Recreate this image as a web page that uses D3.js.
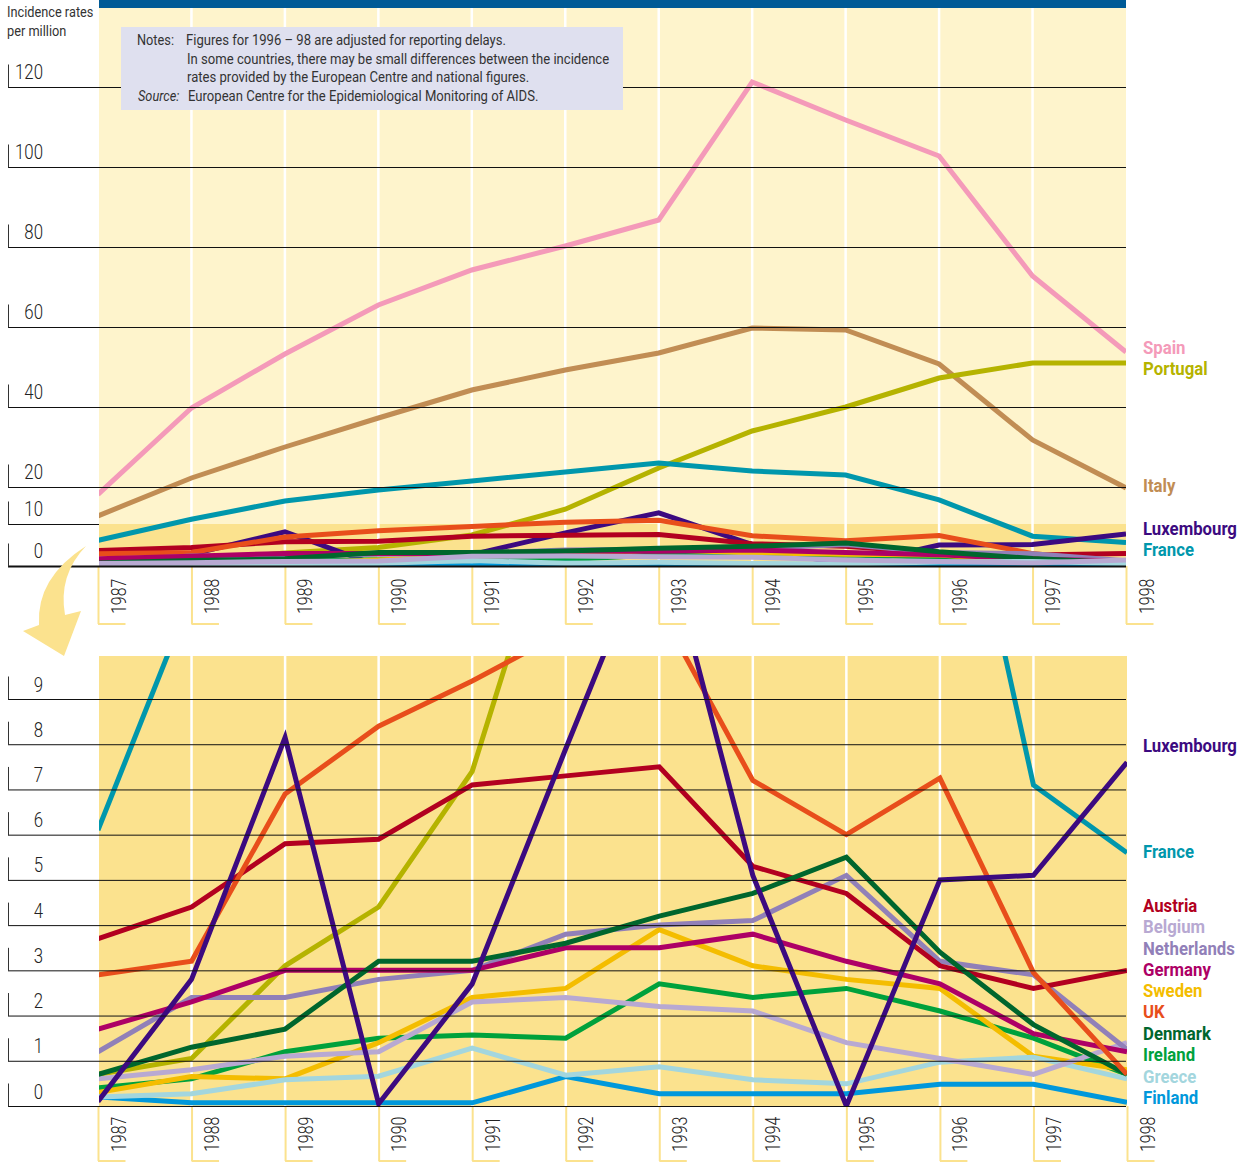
<!DOCTYPE html>
<html lang="en">
<head>
<meta charset="UTF-8">
<title>AIDS incidence rates</title>
<script src="https://d3js.org/d3.v7.min.js"></script>
<style>
body { margin: 0; background: #fff; }
svg { display: block; }
text { font-family: "Roboto", "Liberation Sans", sans-serif; fill: #2b2b2b; }
.tick text { font-family: "Roboto", "Liberation Sans", sans-serif; font-size: 21px; font-weight: 300; fill: #222; }
.note { font-size: 15px; font-weight: 400; fill: #333; }
.country { font-size: 18.5px; font-weight: bold; }
</style>
</head>
<body>
<svg width="1250" height="1162"></svg>
<script>
var years = [1987, 1988, 1989, 1990, 1991, 1992, 1993, 1994, 1995, 1996, 1997, 1998];

var spain      = [18, 39.75, 53.25, 65.5, 74.25, 80.25, 86.75, 121.25, 111.75, 102.75, 72.75, 53.75];
var italy      = [12.2, 22.25, 30, 37.25, 44.25, 49.25, 53.5, 59.75, 59.25, 50.75, 31.75, 19.75];
var portugal   = [0.7, 1.05, 3.1, 4.4, 7.4, 14, 24.75, 34, 40, 47.25, 51, 51];
var france     = [6.1, 11.3, 16.2, 19.2, 21.5, 23.75, 26, 24, 23, 16.5, 7.1, 5.6];
var luxembourg = [0.1, 2.8, 8.15, 0.05, 2.7, 7.9, 13, 5.1, 0, 5, 5.1, 7.6];
var austria    = [3.7, 4.4, 5.8, 5.9, 7.1, 7.3, 7.5, 5.3, 4.7, 3.1, 2.6, 3];
var belgium    = [0.6, 0.8, 1.1, 1.2, 2.3, 2.4, 2.2, 2.1, 1.4, 1.05, 0.7, 1.4];
var netherlands = [1.2, 2.4, 2.4, 2.8, 3, 3.8, 4, 4.1, 5.1, 3.2, 2.9, 1.25];
var germany    = [1.7, 2.3, 3, 3, 3, 3.5, 3.5, 3.8, 3.2, 2.7, 1.6, 1.2];
var sweden     = [0.3, 0.65, 0.6, 1.4, 2.4, 2.6, 3.9, 3.1, 2.8, 2.6, 1.1, 0.8];
var uk         = [2.9, 3.2, 6.9, 8.4, 9.4, 10.5, 11, 7.2, 6, 7.25, 2.95, 0.7];
var denmark    = [0.7, 1.3, 1.7, 3.2, 3.2, 3.6, 4.2, 4.7, 5.5, 3.4, 1.8, 0.7];
var ireland    = [0.4, 0.6, 1.2, 1.5, 1.57, 1.5, 2.7, 2.4, 2.6, 2.1, 1.5, 0.7];
var greece     = [0.2, 0.27, 0.58, 0.66, 1.28, 0.68, 0.87, 0.58, 0.49, 0.97, 1.08, 0.6];
var finland    = [0.2, 0.07, 0.07, 0.07, 0.07, 0.65, 0.27, 0.27, 0.27, 0.48, 0.48, 0.08];

var topTicks = [0, 10, 20, 40, 60, 80, 100, 120];
var lowTicks = [0, 1, 2, 3, 4, 5, 6, 7, 8, 9];

var series = {
    Spain: {values: spain, color: "#f49ab9"},
    Italy: {values: italy, color: "#c18d54"},
    Portugal: {values: portugal, color: "#b5b300"},
    France: {values: france, color: "#0097ac"},
    Luxembourg: {values: luxembourg, color: "#3c0a80"},
    Austria: {values: austria, color: "#b20020"},
    Belgium: {values: belgium, color: "#b8a9d2"},
    Netherlands: {values: netherlands, color: "#9180b8"},
    Germany: {values: germany, color: "#ad0066"},
    Sweden: {values: sweden, color: "#f4bd00"},
    UK: {values: uk, color: "#e84e1b"},
    Denmark: {values: denmark, color: "#00662d"},
    Ireland: {values: ireland, color: "#00a13c"},
    Greece: {values: greece, color: "#a3d6de"},
    Finland: {values: finland, color: "#0098db"}
};

// draw order differs a bit between the two panels
var topOrder = ["Spain", "Italy", "Portugal", "France", "Luxembourg", "Austria", "UK", "Ireland", "Sweden",
    "Finland", "Netherlands", "Germany", "Denmark", "Greece", "Belgium"];
var lowOrder = ["Spain", "Italy", "Portugal", "France", "Ireland", "Sweden", "Finland", "Greece", "Belgium",
    "Netherlands", "Austria", "Germany", "Denmark", "UK", "Luxembourg"];

var svg = d3.select("svg");
var pale = "#fef4cc", band = "#fbe28e";

// no condensed face installed, so squeeze the glyphs to the original widths
function narrow(sel, factor) {
    sel.each(function() {
        var n = this.getComputedTextLength();
        d3.select(this).attr("textLength", n * factor).attr("lengthAdjust", "spacingAndGlyphs");
    });
}

// the 0-10 part of the top panel is a little stretched in the original
var yTop = d3.scaleLinear().domain([0, 10, 20, 120]).range([566, 524, 487, 87]);
var yLow = d3.scaleLinear().domain([0, 9]).range([1106, 699]);
var xTop = d3.scaleLinear().domain([1987, 1998]).range([98, 1126]);
var xLow = d3.scaleLinear().domain([1987, 1998]).range([98, 1127]);

svg.append("rect").attr("x", 99).attr("y", 0).attr("width", 1027).attr("height", 8).attr("fill", "#005a96");
svg.append("rect").attr("x", 99).attr("y", 8).attr("width", 1027).attr("height", 516).attr("fill", pale);
svg.append("rect").attr("x", 99).attr("y", yTop(10)).attr("width", 1027).attr("height", yTop(0) - yTop(10)).attr("fill", band);
svg.append("rect").attr("x", 99).attr("y", 656).attr("width", 1028).attr("height", 450).attr("fill", band);

var defs = svg.append("defs");
defs.append("clipPath").attr("id", "clipTop").append("rect")
    .attr("x", 99).attr("y", 8).attr("width", 1027).attr("height", 558);
defs.append("clipPath").attr("id", "clipLow").append("rect")
    .attr("x", 99).attr("y", 656).attr("width", 1028).attr("height", 450);

function panel(x, y, order, clip, top, bottom, tickVals) {
    var isTop = bottom == 566;

    // white year stripes
    svg.append("g").selectAll("line").data(years.slice(1, -1)).join("line")
        .attr("x1", x).attr("x2", x)
        .attr("y1", top).attr("y2", bottom)
        .attr("stroke", "#fff").attr("stroke-width", 2.5);

    var line = d3.line()
        .x(function(d, i) { return x(years[i]); })
        .y(function(d) { return y(d); });

    svg.append("g").attr("clip-path", "url(#" + clip + ")")
        .selectAll("path").data(order).join("path")
        .attr("d", function(d) { return line(series[d].values); })
        .attr("fill", "none")
        .attr("stroke", function(d) { return series[d].color; })
        .attr("stroke-width", 5)
        .attr("stroke-linejoin", "miter");

    // year axis
    var xAxis = d3.axisBottom(x).tickValues(years).tickFormat(d3.format("d")).tickSize(isTop ? 58 : 55);
    var gx = svg.append("g").attr("transform", "translate(0," + bottom + ")").call(xAxis);
    gx.select(".domain").remove();
    gx.selectAll(".tick line").attr("stroke", band).attr("stroke-width", 2);
    gx.selectAll(".tick").append("line")
        .attr("x1", -0.5).attr("x2", 27)
        .attr("y1", isTop ? 58 : 55).attr("y2", isTop ? 58 : 55)
        .attr("stroke", band).attr("stroke-width", 2);
    gx.selectAll(".tick text")
        .attr("text-anchor", "start")
        .attr("dy", 0)
        .attr("y", 0)
        .attr("x", 0)
        .attr("transform", "translate(27," + (isTop ? 48 : 46) + ") rotate(-90)")
        .call(narrow, 0.76);

    // value axis, the gridlines run across the coloured lines
    var yAxis = d3.axisLeft(y).tickValues(tickVals).tickFormat(d3.format("d")).tickSize(-1118);
    var gy = svg.append("g").attr("transform", "translate(8,0)").call(yAxis);
    gy.select(".domain").remove();
    gy.selectAll(".tick line")
        .attr("stroke", "#111")
        .attr("x2", function(d) { return isTop && d == 10 ? 91 : 1118; })
        .attr("stroke-width", function(d) { return d == 0 && isTop ? 2 : 1; });
    gy.selectAll(".tick").append("line")
        .attr("x1", 0.5).attr("x2", 0.5).attr("y1", -23).attr("y2", 0)
        .attr("stroke", "#333").attr("stroke-width", 1);
    gy.selectAll(".tick text")
        .attr("text-anchor", "end")
        .attr("x", 35).attr("y", isTop ? -9 : -8).attr("dy", 0)
        .call(narrow, 0.8);
}

panel(xTop, yTop, topOrder, "clipTop", 8, 566, topTicks);
panel(xLow, yLow, lowOrder, "clipLow", 656, 1106, lowTicks);

// notes box
svg.append("rect").attr("x", 121).attr("y", 27).attr("width", 502).attr("height", 83).attr("fill", "#dfe0ef");

var noteLines = [
    {x: 186, y: 45, t: "Figures for 1996 \u2013 98 are adjusted for reporting delays."},
    {x: 187, y: 64, t: "In some countries, there may be small differences between the incidence"},
    {x: 187, y: 82, t: "rates provided by the European Centre and national figures."},
    {x: 188, y: 101, t: "European Centre for the Epidemiological Monitoring of AIDS."}
];
svg.append("g").selectAll("text").data(noteLines).join("text")
    .attr("class", "note").attr("x", function(d) { return d.x; }).attr("y", function(d) { return d.y; })
    .text(function(d) { return d.t; })
    .call(narrow, 0.872);
svg.append("text").attr("class", "note").attr("x", 137).attr("y", 45).text("Notes:").call(narrow, 0.85);
svg.append("text").attr("class", "note").attr("x", 138).attr("y", 101).attr("font-style", "italic").text("Source:").call(narrow, 0.85);

svg.append("text").attr("class", "note").attr("x", 7).attr("y", 17).text("Incidence rates").call(narrow, 0.85);
svg.append("text").attr("class", "note").attr("x", 7).attr("y", 36).text("per million").call(narrow, 0.85);

// country names beside the panels
var topLabels = [["Spain", 348], ["Portugal", 369], ["Italy", 486], ["Luxembourg", 529], ["France", 550]];
var lowLabels = [["Luxembourg", 746], ["France", 852], ["Austria", 906], ["Belgium", 927], ["Netherlands", 949],
    ["Germany", 970], ["Sweden", 991], ["UK", 1012], ["Denmark", 1034], ["Ireland", 1055], ["Greece", 1077], ["Finland", 1098]];

svg.append("g").selectAll("text").data(topLabels.concat(lowLabels)).join("text")
    .attr("class", "country")
    .attr("x", 1143)
    .attr("y", function(d) { return d[1] + 6; })
    .style("fill", function(d) { return series[d[0]].color; })
    .text(function(d) { return d[0]; })
    .call(narrow, 0.905);

// curved arrow between the panels
svg.append("path")
    .attr("d", "M86,546 Q36,578 39,625 L23,631 L64,656 L81,611 L65,615 Q58,575 86,546 Z")
    .attr("fill", band);
</script>
</body>
</html>
